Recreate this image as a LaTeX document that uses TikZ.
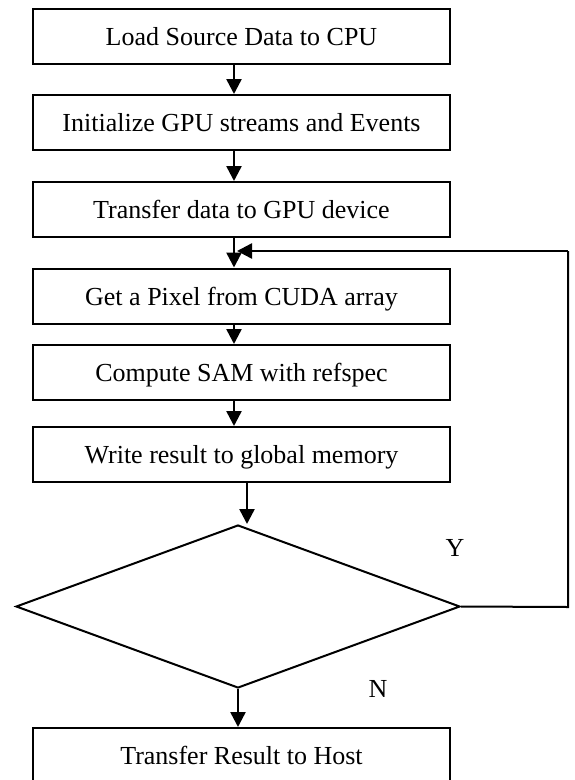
\documentclass[tikz,border=0pt]{standalone}
\usepackage{fontspec}
\setmainfont{Liberation Serif}
\usetikzlibrary{shapes.geometric,arrows.meta}
\begin{document}
\begin{tikzpicture}[x=1pt,y=-1pt,
  stepbox/.style={draw, line width=2pt, minimum width=417pt, minimum height=55pt, inner sep=0pt,
    font=\fontsize{26}{30}\selectfont, text height=18pt, text depth=0pt},
  decision/.style={draw, diamond, line width=2pt, minimum width=444pt, minimum height=163pt, inner sep=0pt},
  arr/.style={line width=2.5pt, -{Triangle[width=15pt,length=15pt]}},
  lbl/.style={inner sep=0pt, font=\fontsize{26}{30}\selectfont}]
\useasboundingbox (0,0) rectangle (574,780);
\node[stepbox] (b1) at (241.5,36) {Load Source Data to CPU};
\node[stepbox] (b2) at (241.5,122.5) {Initialize GPU streams and Events};
\node[stepbox] (b3) at (241.5,209.5) {Transfer data to GPU device};
\node[stepbox] (b4) at (241.5,296) {Get a Pixel from CUDA array};
\node[stepbox] (b5) at (241.5,372.5) {Compute SAM with refspec};
\node[stepbox] (b6) at (241.5,454.5) {Write result to global memory};
\node[decision] (d) at (238,606.5) {};
\node[stepbox] (b7) at (241.5,755.5) {Transfer Result to Host};
\node[lbl] (y) at (455,548) {Y};
\node[lbl] (n) at (378,689) {N};
\coordinate (lr) at (568,607);
\coordinate (lt) at (568,251);
\coordinate (le) at (237,251);
\draw[arr] ([xshift=-7.5pt]b1.south) -- ([xshift=-7.5pt]b2.north);
\draw[arr] ([xshift=-7.5pt]b2.south) -- ([xshift=-7.5pt]b3.north);
\draw[arr] ([xshift=-7.5pt]b3.south) -- ([xshift=-7.5pt]b4.north);
\draw[arr] ([xshift=-7.5pt]b4.south) -- ([xshift=-7.5pt]b5.north);
\draw[arr] ([xshift=-7.5pt]b5.south) -- ([xshift=-7.5pt]b6.north);
\draw[arr] ([xshift=5.5pt]b6.south) -- ([xshift=5.5pt]b6.south |- d.north);
\draw[arr] (d.south) -- (d.south |- b7.north);
\draw[line width=2pt] (d.east) -- (lr) -- (lt);
\draw[arr] (lt) -- (le);
\end{tikzpicture}
\end{document}
